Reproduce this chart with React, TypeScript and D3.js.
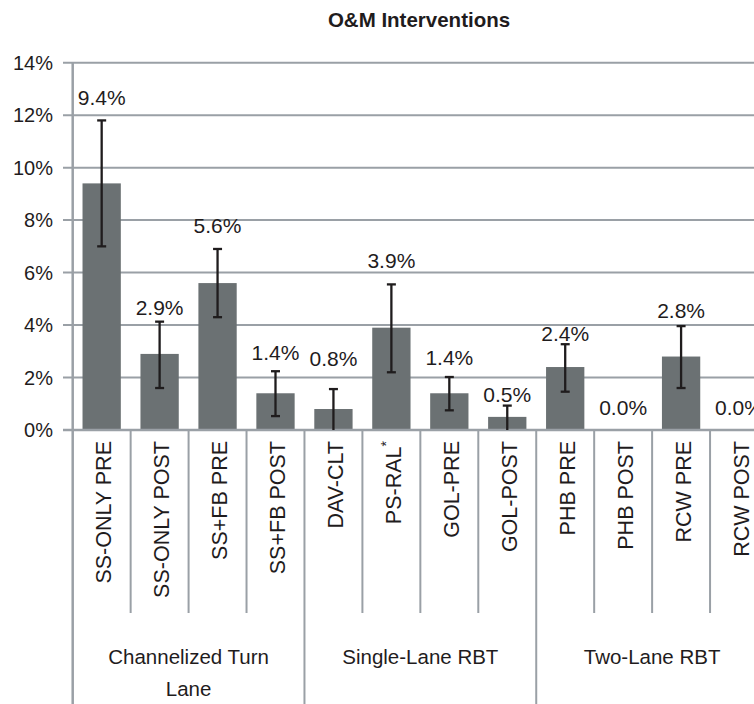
import React from "react";
import * as d3 from "d3";

const title = "O&M Interventions";
const categories = [
  "SS-ONLY PRE",
  "SS-ONLY POST",
  "SS+FB PRE",
  "SS+FB POST",
  "DAV-CLT",
  "PS-RAL*",
  "GOL-PRE",
  "GOL-POST",
  "PHB PRE",
  "PHB POST",
  "RCW PRE",
  "RCW POST",
];
const groupNames = [["Channelized Turn", "Lane"], ["Single-Lane RBT"], ["Two-Lane RBT"]];
const groupSizes = [4, 4, 4];
const values = [9.4, 2.9, 5.6, 1.4, 0.8, 3.9, 1.4, 0.5, 2.4, 0.0, 2.8, 0.0];
const errLow: (number | null)[] = [7.0, 1.6, 4.3, 0.53, 0, 2.2, 0.75, 0, 1.46, null, 1.6, null];
const errHigh: (number | null)[] = [11.8, 4.13, 6.9, 2.24, 1.56, 5.55, 2.02, 0.93, 3.27, null, 3.96, null];
const labelLevels = [12.39, 4.38, 7.5, 2.67, 2.44, 6.16, 2.48, 1.08, 3.39, 0.57, 4.26, 0.57];
const yTicks = [0, 2, 4, 6, 8, 10, 12, 14];

const W = 754;
const H = 704;
const FONT = "'Liberation Sans', Arial, Helvetica, sans-serif";
const GRID = "#9aa0a6";
const BAR = "#6b7173";
const ERR = "#1f1c1d";
const TEXT = "#1f1c1d";

export default function App() {
  const left = 72.7;
  const right = 768;
  const top = 62.7;
  const base = 430;

  const x = d3
    .scaleBand<string>()
    .domain(categories)
    .range([left, right])
    .paddingInner(0.339)
    .paddingOuter(0.1695);
  const step = x.step();
  const y = d3.scaleLinear().domain([0, 14]).range([base, top]);
  const fmt = d3.format(".1f");

  const boundary = (i: number) => left + i * step;
  const groupStarts: number[] = [];
  let acc = 0;
  groupSizes.forEach((s) => {
    groupStarts.push(acc);
    acc += s;
  });

  return (
    <svg
      width={W}
      height={H}
      style={{ position: "absolute", left: 0, top: 0, background: "#fff" }}
      fontFamily={FONT}
    >
      <rect x={0} y={0} width={W} height={H} fill="#fff" />
      <text x={419} y={27} textAnchor="middle" fontWeight="bold" fontSize={20.5} fill={TEXT}>
        {title}
      </text>

      {yTicks.map((t) => (
        <g key={t}>
          <line x1={63} x2={W + 20} y1={y(t)} y2={y(t)} stroke={GRID} strokeWidth={2} />
          <text x={53} y={y(t)} dy="0.36em" textAnchor="end" fontSize={20} fill={TEXT}>
            {t}%
          </text>
        </g>
      ))}

      {categories.map((c, i) => (
        <rect
          key={c}
          x={x(c)!}
          y={y(values[i])}
          width={x.bandwidth()}
          height={base - y(values[i])}
          fill={BAR}
        />
      ))}

      <line x1={63} x2={W + 20} y1={base} y2={base} stroke={GRID} strokeWidth={2.5} />

      {categories.map((c, i) => {
        const lo = errLow[i];
        const hi = errHigh[i];
        if (lo === null || hi === null) return null;
        const cx = x(c)! + x.bandwidth() / 2;
        return (
          <g key={c} stroke={ERR} strokeWidth={2.3}>
            <line x1={cx} x2={cx} y1={y(hi)} y2={y(lo)} />
            <line x1={cx - 4.5} x2={cx + 4.5} y1={y(hi)} y2={y(hi)} />
            {lo > 0 && <line x1={cx - 4.5} x2={cx + 4.5} y1={y(lo)} y2={y(lo)} />}
          </g>
        );
      })}

      {categories.map((c, i) => (
        <text
          key={c}
          x={x(c)! + x.bandwidth() / 2}
          y={y(labelLevels[i])}
          textAnchor="middle"
          fontSize={21}
          fill={TEXT}
        >
          {fmt(values[i])}%
        </text>
      ))}

      {d3.range(1, categories.length).map((i) => {
        const isGroup = groupStarts.includes(i);
        return (
          <line
            key={i}
            x1={boundary(i)}
            x2={boundary(i)}
            y1={base}
            y2={isGroup ? H + 5 : 613}
            stroke={GRID}
            strokeWidth={2}
          />
        );
      })}
      <line x1={left} x2={left} y1={top} y2={H + 5} stroke={GRID} strokeWidth={2.5} />

      {categories.map((c) => {
        const cx = x(c)! + x.bandwidth() / 2 + 2.5;
        const star = c.endsWith("*");
        const txt = star ? c.slice(0, -1) : c;
        return (
          <text
            key={c}
            transform={`translate(${cx},441) rotate(-90)`}
            textAnchor="end"
            dominantBaseline="central"
            fontSize={21.5}
            fill={TEXT}
          >
            {txt}
            {star && (
              <tspan fontSize={14} dy={-8}>
                *
              </tspan>
            )}
          </text>
        );
      })}

      {groupNames.map((lines, g) => {
        const start = boundary(groupStarts[g]);
        const end = boundary(groupStarts[g] + groupSizes[g]);
        const cx = (start + end) / 2;
        return (
          <text key={g} x={cx} y={664} textAnchor="middle" fontSize={20.5} fill={TEXT}>
            {lines.map((l, k) => (
              <tspan key={k} x={cx} dy={k === 0 ? 0 : 32}>
                {l}
              </tspan>
            ))}
          </text>
        );
      })}
    </svg>
  );
}
